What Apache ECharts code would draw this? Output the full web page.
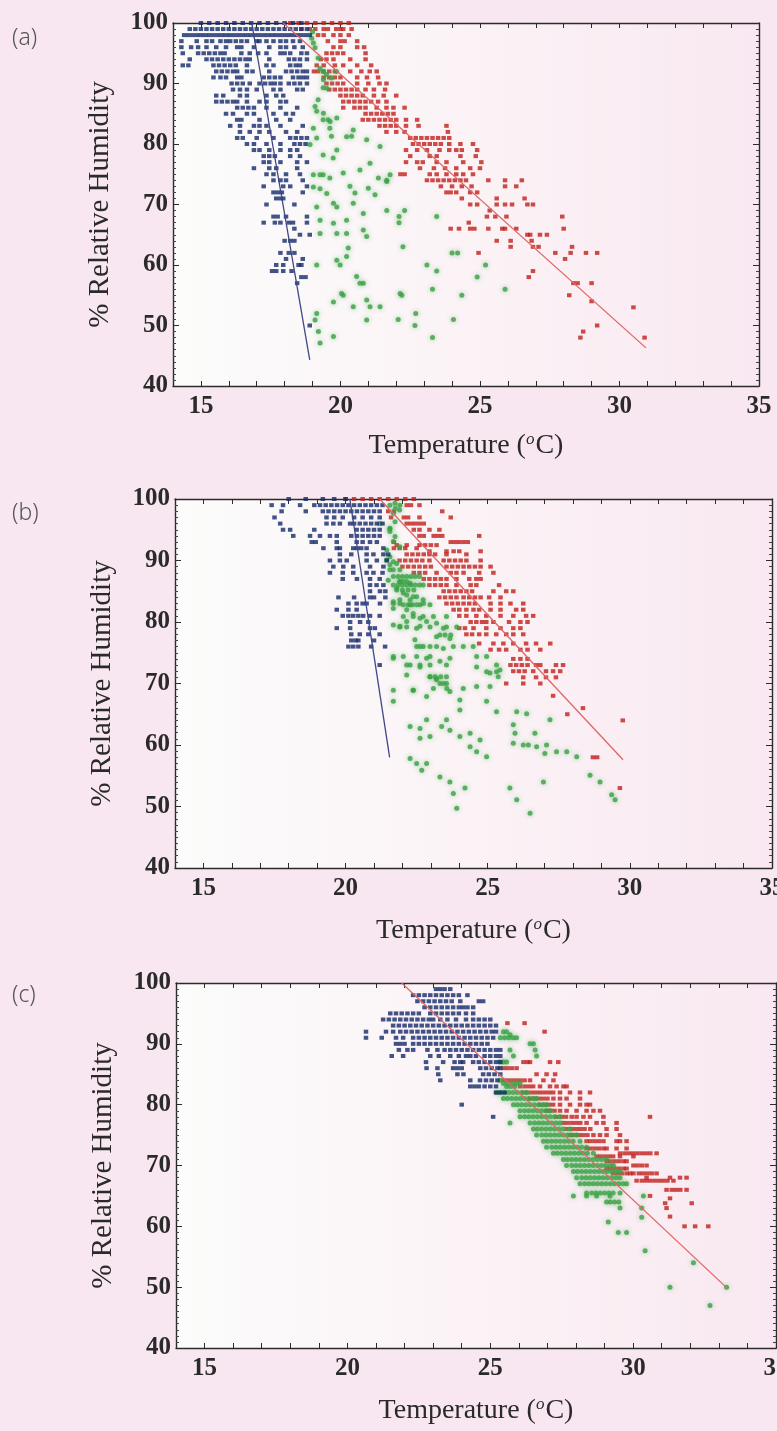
<!DOCTYPE html>
<html>
<head>
<meta charset="utf-8">
<title>Relative humidity vs temperature</title>
<script src="https://cdn.jsdelivr.net/npm/echarts@6/dist/echarts.min.js"></script>
<style>
  html, body { margin: 0; padding: 0; background: #f8e7f0; }
  #chart { width: 777px; height: 1431px; }
</style>
</head>
<body>
<div id="chart"></div>
<script>
// tick labels
var xTickLabels = [15, 20, 25, 30, 35];
var yTickLabels = [40, 50, 60, 70, 80, 90, 100];
var panelTags = ['(a)', '(b)', '(c)'];

// ---- panel (a) ----  rows are [humidity, [temperatures]]
var aBlueRows = [
  [100, [15.0,15.3,15.6,15.9,16.2,16.5,16.8,17.1,17.4,17.7,18.0,18.3,18.6]],
  [99, [14.6,14.8,15.0,15.2,15.4,15.6,15.8,16.0,16.2,16.4,16.6,16.8,17.0,17.2,17.4,17.6,17.8,18.0,18.2,18.4,18.6,18.8]],
  [98, [14.4,14.55,14.7,14.85,15.0,15.15,15.3,15.45,15.6,15.75,15.9,16.05,16.2,16.35,16.5,16.65,16.8,16.95,17.1,17.25,17.4,17.55,17.7,17.85,18.0,18.15,18.3,18.45,18.6,18.75,18.9]],
  [97, [14.3,14.85,15.2,15.4,15.7,15.9,16.05,16.25,16.45,16.65,17.0,17.1,17.35,17.6,17.85,18.05,18.3,18.55]],
  [96, [14.3,14.65,14.9,15.2,15.55,15.9,16.3,16.45,16.9,17.45,17.85,18.05,18.35,18.65]],
  [95, [14.35,14.9,15.1,15.3,15.5,15.7,15.85,16.45,16.75,17.05,17.35,17.85,18.0,18.2,18.6,18.8]],
  [94, [14.6,15.2,15.4,15.6,15.8,16.0,16.2,16.4,16.6,16.75,17.45,18.15,18.35,18.55,18.8]],
  [93, [14.35,14.55,15.45,15.65,15.85,16.05,16.25,16.65,17.35,17.6,18.2,18.4,18.55]],
  [92, [15.55,15.75,15.95,16.15,16.3,16.65,16.85,17.45,18.05,18.25,18.45,18.65,18.8]],
  [91, [15.45,15.7,15.9,16.3,16.45,17.25,17.45,17.65,17.85,18.3,18.5,18.65,18.8]],
  [90, [16.1,16.3,16.5,16.75,17.1,17.3,17.5,17.65,17.85,18.15,18.35,18.55,18.8]],
  [89, [16.15,16.4,16.65,17.0,17.6,17.85,18.45,18.65]],
  [88, [15.55,15.8,16.4,16.65,17.35,17.7,17.95]],
  [87, [15.55,15.75,15.95,16.15,16.3,16.65,17.1,17.35,17.85,18.05]],
  [86, [16.3,16.5,16.7,16.9,17.35,17.85,18.45]],
  [85, [15.9,16.15,16.65,16.9,17.6,18.05,18.3]],
  [84, [16.3,16.45,17.1,17.7,18.2]],
  [83, [16.05,16.4,16.9,17.1,17.35,17.85,18.65]],
  [82, [16.4,16.75,17.1,17.45,18.05,18.45]],
  [81, [16.3,16.5,17.0,17.6,18.2,18.4,18.6,18.8]],
  [80, [16.65,16.9,17.35,17.85,18.35,18.55,18.75]],
  [79, [16.9,17.1,17.45,17.85,18.2,18.45]],
  [78, [17.25,17.45,17.65,18.2,18.55]],
  [77, [17.25,17.45,17.85,18.45,18.8]],
  [76, [16.9,17.45,17.7,18.45]],
  [75, [17.35,17.6,18.05,18.55]],
  [74, [17.6,17.85,18.05,18.65]],
  [73, [17.25,17.95,18.2,18.8]],
  [72, [17.6,17.75,17.9,18.65]],
  [71, [17.7,17.85,17.95]],
  [70, [17.35,18.35]],
  [68, [17.6,17.75,18.05,18.8]],
  [67, [17.25,17.65,17.85,18.15,18.3,18.8]],
  [66, [18.35]],
  [65, [18.55,18.9]],
  [64, [18.0,18.2,18.35]],
  [62, [17.85,18.15,18.35]],
  [61, [18.05,18.65]],
  [60, [17.7,17.95,18.5,18.6]],
  [59, [17.55,17.7,17.95,18.25]],
  [58, [18.6,18.75]],
  [57, [18.45]],
  [50, [18.9]]
];
var aRedRows = [
  [100, [18.2,18.5,18.8,19.1,19.4,19.7,20.0,20.3]],
  [99, [18.6,18.9,19.1,19.4,19.55,19.85,20.0,20.1,20.4]],
  [98, [19.2,19.4,19.75,20.0,20.3]],
  [97, [19.55,20.0,20.15,20.6]],
  [96, [19.75,20.0,20.6,20.85]],
  [95, [19.5,19.7,19.9,20.1,20.9]],
  [94, [19.3,19.5,19.75,20.35,20.9]],
  [93, [19.15,19.4,19.8,20.1,20.6,21.1]],
  [92, [19.05,19.2,19.4,19.6,19.8,20.35,20.75,21.05,21.3]],
  [91, [19.4,19.6,19.8,20.0,20.6,20.95,21.35]],
  [90, [19.5,19.7,19.9,20.1,20.6,21.0,21.4,21.65]],
  [89, [19.6,19.8,20.0,20.2,20.4,20.6,20.9,21.2,21.6]],
  [88, [20.0,20.2,20.4,20.6,20.8,21.2,21.55,22.0]],
  [87, [20.1,20.3,20.5,20.7,20.9,21.1,21.35,21.65]],
  [86, [20.1,20.5,20.7,20.9,21.3,21.65,21.9,22.3]],
  [85, [20.9,21.1,21.3,21.5,21.7,21.9]],
  [84, [20.8,21.0,21.2,21.4,21.6,21.8,22.0,22.35,22.75]],
  [83, [21.4,21.6,21.8,22.0,22.35,22.8,23.8]],
  [82, [21.65,22.0,22.3,23.85]],
  [81, [22.5,22.7,22.9,23.1,23.3,23.5,23.7,23.9]],
  [80, [22.6,22.8,23.0,23.2,23.4,23.6,23.9,24.3,24.75]],
  [79, [22.35,22.75,23.1,23.55,23.9,24.15,24.35,24.9]],
  [78, [22.5,23.2,23.45,24.3,24.85]],
  [77, [22.35,22.75,22.95,23.45,23.8,24.4,25.05]],
  [76, [22.85,23.35,23.75,24.15,24.65,25.0]],
  [75, [22.15,22.3,23.2,23.45,23.8,24.15,24.4,24.75]],
  [74, [23.1,23.3,23.5,23.7,23.9,24.1,24.3,24.5,25.3,25.9,26.5]],
  [73, [23.6,24.0,24.35,24.7,25.9,26.3]],
  [72, [23.8,23.95,24.15,24.65,24.9]],
  [71, [24.35,25.6,26.6]],
  [70, [24.65,24.9,25.6,25.9,26.15,26.7,26.9]],
  [69, [25.35]],
  [68, [25.25,25.55,25.95,27.95]],
  [67, [24.6]],
  [66, [23.95,24.25,24.65,24.8,25.3,25.8,25.9,26.3,28.0]],
  [65, [26.7,26.8,27.15,27.4]],
  [64, [25.6,26.1,26.85]],
  [63, [26.1,26.9,27.1,28.3]],
  [62, [24.95,27.7,28.25,28.8,29.2]],
  [61, [28.05]],
  [59, [26.9]],
  [58, [26.75]],
  [57, [28.35,28.5,29.0]],
  [55, [28.2]],
  [54, [29.0]],
  [53, [30.5]],
  [50, [29.2]],
  [49, [28.7]],
  [48, [28.6,30.9]]
];
var aGreenPts = [
  [19.0,98.5],[18.97,97.5],[19.03,96.7],[19.09,95.9],[19.2,94.2],[19.27,92.5],[19.38,92],[19.5,91.5],
  [19.68,90.9],[19.86,92],[19.39,90.6],[19.51,89.2],[19.38,89.3],[19.2,87.3],[19.09,86.2],[19.15,85.4],
  [19.38,84],[19.56,84],[19.39,85.1],[19.63,83.7],[19.87,84.3],[20.46,82.3],[19.03,82.6],[19.62,82.6],
  [19.15,81],[19.68,81.3],[20.4,81.3],[20.22,81.2],[19.87,79],[20.94,80.7],[21.06,76.8],[21.42,79.6],
  [18.91,79.9],[19.38,78.2],[19.74,77.7],[19.03,74.9],[19.38,74.9],[20.1,75.2],[19.62,74.4],[20.7,75.7],
  [19.27,74.9],[20.34,73],[20.52,71.9],[21.0,72.7],[21.36,74.4],[21.66,73.8],[21.24,71.6],[21.78,74.9],
  [19.03,72.9],[19.27,72.6],[19.51,71.8],[19.75,70.2],[19.87,69.6],[20.46,70.2],[19.15,69.6],[20.82,68.5],
  [19.27,67.4],[19.75,66.9],[20.22,67.4],[20.82,65.8],[19.87,65.2],[19.27,65.2],[20.22,65.2],[20.94,64.7],
  [20.28,62.8],[20.22,61.4],[19.87,60.8],[19.99,60],[19.15,60],[20.58,58.1],[20.7,57],[20.82,57],
  [20.1,55],[20.04,55.3],[19.75,53.9],[20.94,54.2],[22.14,55.3],[21.06,53.1],[19.15,52],[19.21,49],
  [19.27,47.1],[19.09,50.9],[19.75,48.2],[20.94,50.9],[21.42,53.1],[20.46,53.1],[21.66,74],[21.66,69],
  [22.3,69],[22.1,68],[22.1,67],[23.45,68],[22.24,63],[24.0,62],[24.2,62],[23.1,60],[25.2,60],[23.45,59],
  [24.9,58],[25.9,56],[22.2,55],[23.3,56],[24.35,55],[22.07,51],[22.7,52],[22.67,50],[24.05,51],[23.3,48]
];
var aBlueFit = [[16.82, 100], [18.9, 44.3]];
var aRedFit = [[17.95, 100], [30.95, 46.3]];

// ---- panel (b) ----
var bBlueRows = [
  [100, [18.0,18.6,19.2,19.6,20.0]],
  [99, [17.4,17.8,18.4,18.9,19.1,19.3,19.5,19.7,19.9,20.1,20.3,20.5,20.7,20.9,21.1,21.3]],
  [98, [17.75,18.6,19.2,19.4,19.6,19.8,20.0,20.2,20.4,20.6,20.8,21.0,21.2]],
  [97, [17.5,19.33,19.6,19.9,20.3,20.6,20.9,21.2]],
  [96, [17.7,19.33,19.57,19.8,20.16,20.3,20.5,20.7,20.9,21.1,21.3]],
  [95, [17.8,18.05,18.9,20.39,20.6,20.8,21.0,21.2]],
  [94, [18.16,18.75,19.1,19.45,19.69,20.2,20.4,20.6,20.8,21.0,21.2]],
  [93, [18.81,18.95,19.69,20.39,20.6,20.86,21.1]],
  [92, [19.22,19.69,19.8,20.27,20.4,20.55,20.74,21.33]],
  [91, [19.8,20.2,20.74,20.98,21.33,21.5]],
  [90, [19.45,19.8,20.04,20.74,21.1,21.45]],
  [89, [19.57,19.92,20.27,20.86,21.33]],
  [88, [19.45,19.9,20.27,20.74,20.98,21.3]],
  [87, [19.9,20.4,20.86,21.2]],
  [86, [20.86,21.09,21.33]],
  [85, [20.86,21.21,21.4]],
  [84, [19.75,20.3,20.86,21.0,21.4]],
  [83, [20.1,20.39,20.6,20.74,21.21]],
  [82, [19.69,20.1,20.39]],
  [81, [19.9,20.1,20.27,20.45,20.62,20.86,21.2]],
  [80, [20.16,20.51,20.8]],
  [79, [19.69,20.16,20.86,21.03]],
  [78, [20.2,20.5,20.8,21.2]],
  [77, [20.2,20.35,20.45,21.0]],
  [76, [20.1,20.27,20.45,20.9,21.39]],
  [73, [21.2]]
];
var bRedRows = [
  [100, [20.0,20.3,20.6,20.9,21.2,21.5,21.8,22.1,22.4]],
  [99, [22.15,22.3,22.6]],
  [98, [21.5,21.7,23.4]],
  [97, [21.6,22.05,22.2,22.6,23.7]],
  [96, [22.15,22.3,22.45,22.6,22.75]],
  [95, [22.4,22.6,22.95,23.3]],
  [94, [22.6,22.75,23.1,23.25,23.4,24.7]],
  [93, [21.7,23.7,23.85,24.0,24.15,24.3]],
  [92.5, [21.8,22.15,22.6,22.8,23.0,23.2]],
  [92, [21.7,21.9,22.1,22.5]],
  [91.5, [22.95,23.55,23.8,24.0,24.75]],
  [91, [22.15,22.35,22.55,22.75,22.95,23.15,23.55,24.25]],
  [90, [21.9,22.1,22.3,22.5,22.7,22.95,23.45,23.65,23.85,24.05,24.25,24.75]],
  [89, [22.0,22.2,22.4,22.6,22.8,23.0,23.55,23.75,23.95,24.15,24.35,24.55,24.75,25.1]],
  [88, [22.4,22.6,22.8,23.2,23.7,23.9,24.15,24.7,25.2]],
  [87, [22.75,22.95,23.15,23.35,23.55,23.9,24.35,24.6,24.75]],
  [86, [22.95,23.15,23.35,23.55,23.9,24.4,24.6,25.4]],
  [85, [23.45,23.65,23.85,24.05,24.25,24.45,25.2,25.65,25.9]],
  [84, [23.3,23.5,23.7,23.9,24.15,24.35,24.55,24.75,25.05,25.45]],
  [83, [23.55,23.75,23.95,24.15,24.35,24.55,25.1,25.45,25.8,26.25]],
  [82, [23.8,24.0,24.25,24.5,24.7,25.1,25.45,26.0,26.25]],
  [81, [24.0,24.25,24.6,24.95,25.45,25.9,26.35,26.6]],
  [80, [24.4,24.6,24.8,24.95,25.2,25.75,26.15,26.4]],
  [79, [24.0,24.2,24.5,24.95,25.45,25.9,26.15]],
  [78, [24.25,24.45,24.7,24.95,25.3,25.65,25.9,26.25]],
  [76.5, [24.7,25.2,25.55,25.9,26.35,26.7,27.2]],
  [75.5, [25.1,25.4,25.65,26.15,26.4,26.85]],
  [74, [25.9,26.15,26.4]],
  [73, [25.8,26.0,26.2,26.4,26.7,26.85,27.4,27.65]],
  [72, [25.9,26.1,26.3,26.6,27.05,27.3,27.55]],
  [71, [26.25,26.7,27.05,27.4]],
  [70, [25.65,26.25,26.85]],
  [68, [27.3]],
  [66, [28.35]],
  [65, [27.8]],
  [64, [29.75]],
  [58, [28.7,28.85]],
  [53, [29.65]]
];
var bGreenPts = [
  [21.56,99],[21.75,98.5],[21.9,98.2],[21.21,96],[21.56,95.2],[21.56,94.7],[21.68,93.1],[21.45,91.7],
  [21.68,89.8],[21.56,89.3],[21.68,88.5],[21.91,88.5],[21.91,86.6],[22.03,86.6],[22.15,86.6],
  [21.68,86],[21.85,86],[22.0,86],[22.15,86],[22.3,86],[22.45,86],[22.6,86],
  [21.8,85.2],[22.0,85.2],[22.2,85.2],[22.4,85.2],[22.15,84.4],[22.38,84.1],[21.68,83.3],
  [22.03,82.8],[22.2,82.8],[22.35,82.8],[22.5,82.8],[22.74,83],[21.68,82.2],[22.15,82],[22.38,81.4],
  [22.62,80.6],[22.15,80.1],[22.85,80.1],[21.91,79.3],[22.62,79.3],[23.2,79.8],[23.44,79],
  [23.2,77.6],[23.67,77.3],[22.44,77.1],[22.62,76],[22.97,76],[23.44,75.7],
  [21.68,74.1],[22.15,73],[22.62,72.7],[22.85,74.1],[23.32,73.6],[23.67,74.1],
  [22.15,71.4],[22.97,71.1],[23.2,70.8],[23.44,70],[23.56,69.2],[22.38,68.9],[23.09,69.2],
  [21.74,99.3],[21.91,99],[21.68,97.7],[21.74,96.3],[21.56,95.2],[21.74,93.9],[21.91,92.25],
  [21.56,90.6],[21.44,90.1],[21.8,89.5],[21.56,88.5],
  [21.68,87.4],[21.85,87.4],[22.0,87.4],[22.15,87.4],[22.3,87.4],[22.45,87.4],[22.6,87.4],
  [21.5,86.8],[21.91,86.6],[22.27,86.3],[22.73,86],[21.8,85.5],[22.03,84.7],[22.5,84.1],
  [21.91,83.6],[22.27,83.6],[22.73,83.6],[21.68,83],[21.91,83],[22.27,82.8],[22.62,82.8],[22.97,82.8],
  [22.03,80.9],[22.38,80.9],[22.73,80.9],[23.09,80.9],[23.55,80.9],
  [21.68,79.5],[21.91,79.2],[22.15,79.2],[22.5,79],[22.97,79.2],[23.55,79.2],[23.91,79.2],
  [23.32,77.9],[23.5,77.9],[23.7,77.9],
  [22.5,76],[22.73,76],[23.2,76],[23.79,76],[24.14,76],[24.49,76],
  [21.68,74.4],[22.03,74.4],[22.5,74.4],[22.97,74.4],[24.61,74.4],[24.96,74.4],
  [22.27,73],[22.62,73],[22.97,73],[23.55,73],[24.61,72.7],[25.31,73],[25.43,72.2],[24.96,71.9],
  [22.97,71.1],[23.15,71.1],[23.35,71.1],[23.55,71.1],[23.2,70.6],[23.32,70],[23.55,70],
  [21.68,68.9],[22.38,68.9],[23.67,68.7],[24.14,69.2],[24.61,69.5],[25.08,69.5],[25.37,71.1],[25.31,71.9],[25.08,71.7],
  [21.68,67.1],[22.85,67.9],[24.02,67.3],[24.96,67.1],
  [25.31,65.4],[26.02,65.4],[26.37,65.1],[27.19,64.1],[24.02,65.7],[23.55,64.1],[22.85,64.1],
  [22.27,63],[22.62,62.7],[23.38,63],[23.67,62.4],[24.38,61.9],[22.97,61.4],[24.02,61.4],[22.62,61.1],[24.73,60.8],
  [25.9,63.3],[25.96,61.9],[26.66,61.9],[25.9,60.3],[26.25,60],[26.43,60],[26.72,59.7],[27.07,60],
  [27.42,58.9],[27.01,58.6],[27.78,58.9],[28.13,58.1],[24.38,59.7],[24.61,58.9],[24.96,58.1],
  [22.27,57.8],[22.5,57],[22.85,57],[22.68,55.9],[23.32,54.8],[23.67,54],[23.79,52.1],[24.2,53],[23.91,49.7],
  [25.78,53],[26.02,51.1],[26.49,48.9],[26.96,54],[28.6,55.1],[28.95,54],[29.36,51.9],[29.48,51.1]
];
var bBlueFit = [[20.15, 100], [21.55, 58]];
var bRedFit = [[21.2, 100], [29.76, 57.6]];

// ---- panel (c) ----
var cBlueRows = [
  [99, [23.1,23.25,23.4,23.6]],
  [98, [22.3,22.5,22.7,22.9,23.1,23.3,23.5,23.7,23.9,24.2]],
  [97, [22.45,22.65,22.85,23.05,23.25,23.45,23.65,23.95,24.6,24.75]],
  [96, [22.7,22.9,23.1,23.3,23.5,23.7,23.9,24.05,24.2,24.4]],
  [95, [21.5,21.7,21.9,22.1,22.3,22.5,22.9,23.1,23.3,23.5,23.7,23.9,24.15,24.4]],
  [94, [21.25,21.45,21.65,21.85,22.05,22.25,22.45,22.65,22.85,23.0,23.25,23.5,23.8,24.15,24.4,24.6,24.8,25.0]],
  [93, [21.6,21.8,22.0,22.2,22.4,22.6,22.8,23.0,23.2,23.4,23.6,23.8,24.0,24.2,24.4,24.6,24.8,25.0,25.2]],
  [92, [20.65,21.35,21.6,21.85,22.05,22.25,22.45,22.65,22.85,23.05,23.25,23.45,23.65,23.85,24.05,24.25,24.45,24.65,24.85,25.05,25.2]],
  [91, [20.65,21.2,21.7,21.95,22.3,22.5,22.7,22.9,23.1,23.3,23.5,23.7,23.9,24.1,24.3,24.5,24.7,24.9,25.1]],
  [90, [21.7,21.85,22.0,22.3,22.5,22.7,22.9,23.1,23.3,23.5,23.7,23.9,24.1,24.3,24.5,24.7,24.9]],
  [89, [21.8,22.1,22.3,22.8,23.15,23.4,23.6,23.8,24.0,24.2,24.4,24.6,24.8,25.0,25.2,25.35]],
  [88, [21.55,21.95,22.9,23.2,23.6,23.9,24.15,24.3,24.5,24.8,25.0,25.2,25.35]],
  [87, [22.75,23.35,23.75,23.95,24.05,24.4,24.6,24.8,25.0,25.2,25.35]],
  [86, [22.77,23.15,23.7,23.85,24.0,24.65,24.85,25.05,25.25,25.35]],
  [85, [23.18,23.85,24.06,24.75,24.95,25.15,25.35]],
  [84, [23.25,24.3,24.64,24.85,25.05,25.25]],
  [83, [24.3,24.45,24.6,24.8,25.0,25.2]],
  [82, [25.2,25.35,25.5]],
  [80, [24.0]],
  [78, [25.1]]
];
var cGreenRows = [
  [92, [25.46,25.57]],
  [91.5, [25.69]],
  [91, [25.35,25.5,25.65,25.8,25.92]],
  [90, [26.39,26.51]],
  [89, [25.69,26.57]],
  [88, [25.81,26.62]],
  [87, [25.34,25.46,25.57]],
  [84, [25.34]],
  [83.5, [25.46,25.6,25.75,25.9,26.04]],
  [83, [25.57,25.7,25.85]],
  [82, [25.22,25.35,25.5,25.65,25.8,25.95,26.1,26.27]],
  [81, [25.46,25.6,25.75,25.9,26.05,26.2,26.35,26.5,26.62]],
  [80, [25.81,25.95,26.1,26.25,26.4,26.55,26.7,26.85,26.97]],
  [79, [26.04,26.2,26.35,26.5,26.65,26.8,26.95,27.09]],
  [78, [26.04,26.2,26.35,26.5,26.65,26.8,26.95,27.1,27.25,27.44]],
  [77, [25.69,26.39,26.55,26.7,26.85,27.0,27.15,27.3,27.44]],
  [76, [26.51,26.65,26.8,26.95,27.1,27.25,27.4,27.55,27.79]],
  [75, [26.62,26.8,26.95,27.1,27.25,27.4,27.55,27.7,27.85,28.02]],
  [74, [26.86,27.0,27.15,27.3,27.45,27.6,27.75,27.9,28.14]],
  [73, [26.97,27.15,27.3,27.45,27.6,27.75,27.9,28.05,28.2,28.37]],
  [72, [27.21,27.35,27.5,27.65,27.8,27.95,28.1,28.25,28.4,28.61]],
  [71, [27.56,27.7,27.85,28.0,28.15,28.3,28.45,28.6,28.75,28.9,29.07]],
  [70, [27.67,27.85,28.0,28.15,28.3,28.45,28.6,28.75,28.9,29.05,29.2,29.31]],
  [69, [27.91,28.05,28.2,28.35,28.5,28.65,28.8,28.95,29.1,29.25,29.4,29.54]],
  [68, [28.02,28.2,28.35,28.5,28.65,28.8,28.95,29.1,29.25,29.4,29.54]],
  [67, [28.14,28.3,28.45,28.6,28.75,28.9,29.05,29.2,29.35,29.5,29.65,29.77]],
  [65.5, [28.37,28.55,28.7,28.85,29.0,29.15,29.3,29.54]],
  [65, [27.91,28.37,28.72,29.19,30.36]],
  [64, [29.07,29.2,29.35,29.5]],
  [63, [29.54,30.3]],
  [61.5, [30.3]],
  [60.7, [29.13]],
  [59, [29.48,29.77]],
  [56, [30.42]],
  [54, [32.11]],
  [50, [31.29,33.27]],
  [47, [32.69]]
];
var cRedRows = [
  [93.4, [25.6,26.2]],
  [92, [26.9]],
  [87, [26.16,26.3,26.39,27.09,27.38]],
  [86, [25.46,25.6,25.75,25.92]],
  [85, [26.62,26.97,27.27]],
  [84, [25.46,25.6,25.75,25.9,26.05,26.2,26.39,26.86,27.21]],
  [83, [26.04,26.2,26.35,26.5,26.74,27.09,27.32,27.56,27.67]],
  [82, [26.16,26.3,26.45,26.6,26.75,26.9,27.05,27.2,27.44,27.79,28.14,28.49]],
  [81, [26.39,26.55,26.7,26.85,27.0,27.21,27.44,27.67,28.14]],
  [80, [26.74,26.9,27.05,27.2,27.44,27.79,28.14,28.37,28.49]],
  [79, [26.97,27.1,27.25,27.44,27.67,28.02,28.37,28.61,28.84]],
  [78, [27.32,27.5,27.65,27.85,28.02,28.26,28.49,28.96,30.59]],
  [77, [27.56,27.7,27.85,28.0,28.15,28.37,28.72,28.96,29.42]],
  [76, [27.67,27.85,28.0,28.15,28.3,28.5,29.07,29.42]],
  [75, [27.79,27.95,28.1,28.25,28.4,28.61,28.84,29.07,29.54]],
  [74, [28.37,28.5,28.65,28.8,28.96,29.42,29.54,29.77]],
  [72.8, [28.37,28.5,28.65,28.8,28.96,29.07,29.42,29.77]],
  [72, [29.54,29.7,29.85,30.0,30.15,30.3,30.45,30.6,30.82]],
  [71.5, [28.72,28.85,29.0,29.15,29.3,29.54,30.01]],
  [70.7, [29.07,29.2,29.35,29.5,29.66,29.77]],
  [70, [30.01,30.15,30.3,30.47]],
  [69.5, [29.07,29.2,29.35,29.5,29.66,29.77]],
  [68.7, [29.3,29.45,29.6,29.77,29.9,30.01,30.2,30.35,30.5,30.65,30.82]],
  [68, [30.47,31.29,31.64,31.87]],
  [67.5, [30.12,30.3,30.45,30.6,30.75,30.9,31.05,31.2,31.41]],
  [66, [31.17,31.35,31.5,31.65,31.87]],
  [65, [30.59]],
  [64.6, [31.29]],
  [63.8, [31.12,32.05]],
  [63, [31.17]],
  [61.6, [31.29]],
  [60, [31.8,32.17,32.63]]
];
var cRedFit = [[21.9, 100], [33.3, 49.8]];

function fromRows(rows) {
  var out = [];
  rows.forEach(function (r) {
    r[1].forEach(function (t) { out.push([t, r[0]]); });
  });
  return out;
}

var BLUE = '#14296a', RED = '#c01f1a', GREEN = '#38a044';
var serif = '"Liberation Serif", "DejaVu Serif", serif';

var grids = [
  { left: 173, top: 23, width: 586, height: 363 },
  { left: 175, top: 499, width: 597, height: 369 },
  { left: 176, top: 983, width: 600, height: 365 }
];
var panels = [
  { blue: fromRows(aBlueRows), red: fromRows(aRedRows), green: aGreenPts, fits: [[aBlueFit, '#3d4888'], [aRedFit, '#e06767']] },
  { blue: fromRows(bBlueRows), red: fromRows(bRedRows), green: bGreenPts, fits: [[bBlueFit, '#3d4888'], [bRedFit, '#e06767']] },
  { blue: fromRows(cBlueRows), red: fromRows(cRedRows), green: fromRows(cGreenRows), fits: [[cRedFit, '#e06767']] }
];
var tagTops = [27, 502, 984];
var xNameGaps = [45, 48, 48];

var axisLineStyle = { color: '#2b2b2b', width: 1.4 };
var xAxes = [], yAxes = [], series = [], graphics = [];

grids.forEach(function (g, i) {
  g.show = true;
  g.borderWidth = 0;
  g.outerBoundsMode = 'none';
  g.containLabel = false;
  g.backgroundColor = {
    type: 'linear', x: 0, y: 0, x2: 1, y2: 0,
    colorStops: [{ offset: 0, color: '#fbfcfb' }, { offset: 0.5, color: '#fbf3f6' }, { offset: 1, color: '#f9e8f1' }]
  };

  xAxes.push({
    type: 'value', gridIndex: i, min: 14, max: 35, interval: 1, position: 'bottom',
    axisLine: { onZero: false, lineStyle: axisLineStyle },
    axisTick: { inside: true, length: 5, lineStyle: { color: '#2b2b2b' } },
    splitLine: { show: false },
    axisLabel: {
      formatter: function (v) { return xTickLabels.indexOf(v) >= 0 ? String(v) : ''; },
      fontFamily: serif, fontSize: 25, fontWeight: 'bold', color: '#2a2a2a', margin: 8,
      hideOverlap: false
    },
    name: 'Temperature ({s|o}C)', nameLocation: 'middle', nameGap: xNameGaps[i],
    nameTextStyle: {
      fontFamily: serif, fontSize: 28, color: '#2a2a2a',
      rich: { s: { fontFamily: serif, fontSize: 17, fontStyle: 'italic', color: '#2a2a2a', verticalAlign: 'top', padding: [0, 1, 12, 0] } }
    }
  });
  xAxes.push({
    type: 'value', gridIndex: i, min: 14, max: 35, interval: 1, position: 'top',
    axisLine: { onZero: false, lineStyle: axisLineStyle },
    axisTick: { inside: true, length: 5, lineStyle: { color: '#2b2b2b' } },
    axisLabel: { show: false }, splitLine: { show: false }
  });
  yAxes.push({
    type: 'value', gridIndex: i, min: 40, max: 100, interval: 10, position: 'left',
    axisLine: { onZero: false, lineStyle: axisLineStyle },
    axisTick: { inside: true, length: 6, lineStyle: { color: '#2b2b2b' } },
    minorTick: { show: true, splitNumber: 10, length: 3, lineStyle: { color: '#444' } },
    splitLine: { show: false },
    axisLabel: {
      formatter: function (v) { return yTickLabels.indexOf(v) >= 0 ? String(v) : ''; },
      fontFamily: serif, fontSize: 25, fontWeight: 'bold', color: '#2a2a2a', margin: 5
    },
    name: '% Relative Humidity', nameLocation: 'middle', nameGap: 58,
    nameTextStyle: { fontFamily: serif, fontSize: 29, color: '#2a2a2a' }
  });
  yAxes.push({
    type: 'value', gridIndex: i, min: 40, max: 100, interval: 10, position: 'right',
    axisLine: { onZero: false, lineStyle: axisLineStyle },
    axisTick: { inside: true, length: 6, lineStyle: { color: '#2b2b2b' } },
    minorTick: { show: true, splitNumber: 10, length: 3, lineStyle: { color: '#444' } },
    axisLabel: { show: false }, splitLine: { show: false }
  });

  var p = panels[i];
  series.push({
    type: 'scatter', xAxisIndex: 2 * i, yAxisIndex: 2 * i, data: p.red,
    symbol: 'rect', symbolSize: [4.5, 4], itemStyle: { color: RED }, z: 3
  });
  series.push({
    type: 'scatter', xAxisIndex: 2 * i, yAxisIndex: 2 * i, data: p.green,
    symbol: 'circle', symbolSize: 5,
    itemStyle: { color: GREEN, shadowBlur: 5, shadowColor: 'rgba(70,170,80,0.7)' }, z: 3
  });
  series.push({
    type: 'scatter', xAxisIndex: 2 * i, yAxisIndex: 2 * i, data: p.blue,
    symbol: 'rect', symbolSize: [4.5, 4], itemStyle: { color: BLUE }, z: 3
  });
  p.fits.forEach(function (f) {
    series.push({
      type: 'line', xAxisIndex: 2 * i, yAxisIndex: 2 * i, data: f[0],
      symbol: 'none', lineStyle: { color: f[1], width: 1.3 }, z: 5
    });
  });

  graphics.push({
    type: 'text', left: 12, top: tagTops[i],
    style: { text: panelTags[i], font: '300 23px "Noto Sans", sans-serif', fill: '#555' }
  });
});

var chart = echarts.init(document.getElementById('chart'));
chart.setOption({
  animation: false,
  backgroundColor: '#f8e7f0',
  grid: grids,
  xAxis: xAxes,
  yAxis: yAxes,
  series: series,
  graphic: graphics
});
</script>
</body>
</html>
